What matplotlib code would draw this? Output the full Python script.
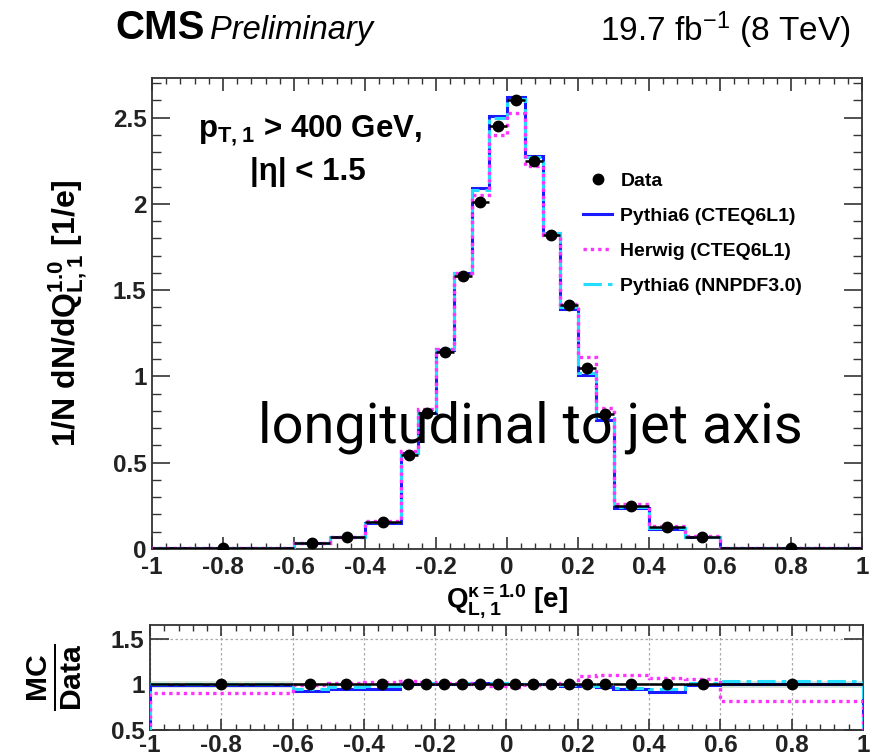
import numpy as np
import matplotlib
matplotlib.use('Agg')
import matplotlib.pyplot as plt
from matplotlib.lines import Line2D
from matplotlib.ticker import MultipleLocator

# bin edges of the jet charge histogram
EDGES = [-1.0, -0.6, -0.5, -0.4, -0.3, -0.25, -0.2, -0.15, -0.1, -0.05, 0.0,
         0.05, 0.1, 0.15, 0.2, 0.25, 0.3, 0.4, 0.5, 0.6, 1.0]

data = [0.004, 0.035, 0.07, 0.157, 0.545, 0.79, 1.14, 1.58, 2.01, 2.45,
        2.60, 2.25, 1.82, 1.415, 1.05, 0.78, 0.25, 0.128, 0.07, 0.004]
pythia_cteq = [0.004, 0.032, 0.068, 0.152, 0.556, 0.79, 1.155, 1.60, 2.09, 2.51,
               2.62, 2.28, 1.83, 1.39, 1.01, 0.75, 0.24, 0.118, 0.07, 0.004]
herwig_cteq = [0.0035, 0.034, 0.071, 0.16, 0.57, 0.81, 1.16, 1.60, 2.05, 2.40,
               2.53, 2.22, 1.82, 1.42, 1.11, 0.82, 0.26, 0.135, 0.074, 0.0033]
pythia_nnpdf = [0.004, 0.033, 0.069, 0.155, 0.556, 0.80, 1.16, 1.60, 2.08, 2.50,
                2.61, 2.27, 1.83, 1.40, 1.02, 0.76, 0.245, 0.122, 0.07, 0.0042]

# MC / Data ratios
ratio_pythia = [0.99, 0.93, 0.95, 0.95, 1.0, 1.0, 1.0, 1.0, 1.01, 1.01,
                1.0, 1.0, 1.0, 0.98, 0.98, 0.97, 0.945, 0.92, 0.99, 1.0]
ratio_herwig = [0.90, 0.99, 1.01, 1.03, 1.04, 1.03, 1.02, 1.01, 1.0, 0.98,
                0.97, 0.99, 1.0, 1.01, 1.09, 1.10, 1.10, 1.07, 1.06, 0.82]
ratio_nnpdf = [1.0, 0.95, 0.97, 0.98, 1.01, 1.01, 1.01, 1.01, 1.01, 1.01,
               1.0, 1.0, 1.0, 0.99, 0.98, 0.98, 0.96, 0.95, 1.01, 1.04]
ratio_data_err = [0.035, 0.02, 0.015, 0.01, 0.01, 0.01, 0.01, 0.01, 0.01, 0.01,
                  0.01, 0.01, 0.01, 0.01, 0.01, 0.01, 0.01, 0.015, 0.02, 0.035]

LEGEND = ['Data', 'Pythia6 (CTEQ6L1)', 'Herwig (CTEQ6L1)', 'Pythia6 (NNPDF3.0)']
XTICKLABELS = ['-1', '-0.8', '-0.6', '-0.4', '-0.2', '0', '0.2', '0.4', '0.6', '0.8', '1']

FONT = 'Liberation Sans'
BLUE = '#1a1aff'
MAGENTA = '#ff33ff'
CYAN = '#22ddff'
MC_DASH = (0, (6, 2, 1.5, 2))
DOTS = (0, (1, 1.2))

plt.rcParams['font.family'] = [FONT, 'DejaVu Sans']
plt.rcParams['font.weight'] = 'bold'
plt.rcParams['axes.labelweight'] = 'bold'

edges = np.array(EDGES)
centers = 0.5 * (edges[1:] + edges[:-1])
halfw = 0.5 * np.diff(edges)

fig = plt.figure(figsize=(8.86, 7.54), dpi=100)
ax = fig.add_axes([152 / 886, 1 - 549 / 754, 710 / 886, 471 / 754])
rax = fig.add_axes([150 / 886, 1 - 730 / 754, 713 / 886, 105 / 754])


def draw_mc(a, blue, mag, cyan):
    a.stairs(blue, edges, color=BLUE, lw=2.2, zorder=3)
    a.stairs(cyan, edges, color=CYAN, lw=2.2, ls=MC_DASH, zorder=4)
    a.stairs(mag, edges, color=MAGENTA, lw=2.4, ls=DOTS, zorder=5)


def style_frame(a):
    for s in a.spines.values():
        s.set_linewidth(1.3)
        s.set_color('#333333')


draw_mc(ax, pythia_cteq, herwig_cteq, pythia_nnpdf)
ax.errorbar(centers, data, xerr=halfw, fmt='o', color='black', ms=7.5,
            elinewidth=1.8, capsize=0, zorder=6)

ax.set_xlim(-1, 1)
ax.set_ylim(0, 2.73)
ax.set_xticks(np.arange(-1, 1.01, 0.2))
ax.set_xticklabels(XTICKLABELS)
ax.xaxis.set_minor_locator(MultipleLocator(0.04))
ax.set_yticks([0, 0.5, 1, 1.5, 2, 2.5])
ax.set_yticklabels(['0', '0.5', '1', '1.5', '2', '2.5'])
ax.yaxis.set_minor_locator(MultipleLocator(0.1))
ax.tick_params(axis='both', which='both', direction='in', top=True, right=True,
               labelsize=17.5, colors='#333333', labelcolor='#222222')
ax.tick_params(axis='x', which='major', length=9, width=1.2, pad=5)
ax.tick_params(axis='x', which='minor', length=4.5, width=1.0)
ax.tick_params(axis='y', which='major', length=13, width=1.2, pad=4)
ax.tick_params(axis='y', which='minor', length=6.5, width=1.0)
style_frame(ax)

ax.set_xlabel('Q$\\mathregular{^{κ=1.0}_{L,1}}$ [e]', fontsize=20, va='top')
ax.xaxis.set_label_coords(0.5, -0.071)
ax.set_ylabel('1/N dN/dQ$\\mathregular{^{1.0}_{L,1}}$ [1/e]', fontsize=23)
ax.yaxis.set_label_coords(-0.087, 0.5)

fig.text(198 / 886, 1 - 137 / 754, 'p$\\mathregular{_{T,1}}$ > 400 GeV,', fontsize=22.5,
         va='baseline', ha='left')
fig.text(250 / 886, 1 - 180 / 754, '|η| < 1.5', fontsize=22.5, va='baseline', ha='left')

handles = [Line2D([], [], color='black', marker='o', ls='none', ms=7.5),
           Line2D([], [], color=BLUE, lw=2.2),
           Line2D([], [], color=MAGENTA, lw=2.4, ls=DOTS),
           Line2D([], [], color=CYAN, lw=2.2, ls=MC_DASH)]
ax.legend(handles, LEGEND, loc='upper left', bbox_to_anchor=(0.607, 0.800),
          frameon=False, fontsize=14, handlelength=1.5, handletextpad=0.42,
          labelspacing=0.9, borderpad=0, borderaxespad=0)

# ratio panel
lo = 1 - np.array(ratio_data_err)
hi = 1 + np.array(ratio_data_err)
rax.stairs(hi, edges, baseline=lo, fill=True, color='#cfe2d2', alpha=0.8, zorder=1)
draw_mc(rax, ratio_pythia, ratio_herwig, ratio_nnpdf)
rax.errorbar(centers, np.ones(len(centers)), xerr=halfw, yerr=ratio_data_err, fmt='o',
             color='black', ms=7.5, elinewidth=1.8, capsize=0, zorder=6)
rax.set_xlim(-1, 1)
rax.set_ylim(0.5, 1.65)
rax.set_xticks(np.arange(-1, 1.01, 0.2))
rax.set_xticklabels(XTICKLABELS)
rax.xaxis.set_minor_locator(MultipleLocator(0.04))
rax.set_yticks([0.5, 1, 1.5])
rax.set_yticklabels(['0.5', '1', '1.5'])
rax.tick_params(axis='both', which='both', direction='in', top=True, right=True,
                labelsize=17.5, colors='#333333', labelcolor='#222222')
rax.tick_params(axis='x', which='major', length=8, width=1.2, pad=3)
rax.tick_params(axis='x', which='minor', length=4, width=1.0)
rax.tick_params(axis='y', which='major', length=14, width=1.2, pad=4)
rax.grid(True, which='major', ls=(0, (2, 2)), color='#aaaaaa', lw=0.9)
style_frame(rax)
rax.set_ylabel('$\\mathregular{\\frac{MC}{Data}}$', fontsize=31)
rax.yaxis.set_label_coords(-0.092, 0.5)

# header
fig.text(115 / 886, 1 - 39 / 754, 'CMS', fontsize=29, fontweight='bold', va='baseline')
fig.text(210 / 886, 1 - 39 / 754, 'Preliminary', fontsize=23.5, fontweight='normal',
         style='italic', va='baseline')
fig.text(850 / 886, 1 - 41 / 754, '19.7 fb$\\mathregular{^{-1}}$ (8 TeV)', fontsize=24,
         fontweight='normal', ha='right', va='baseline')

# overlay caption
fig.text(258 / 886, 1 - 443 / 754, 'longitudinal to jet axis', fontsize=40.3,
         family=['Roboto', 'DejaVu Sans'], fontweight='normal', va='baseline',
         color='black', zorder=10)

fig.savefig('out.png', dpi=100)
